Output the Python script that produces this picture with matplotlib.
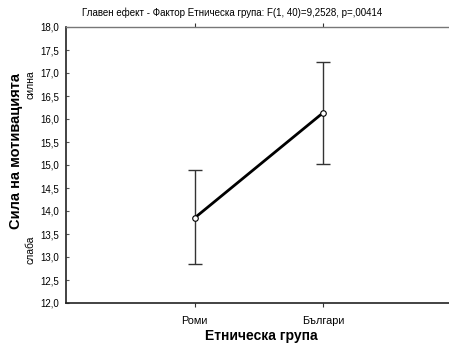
import matplotlib
matplotlib.use('Agg')
import matplotlib.pyplot as plt

plt.rcParams['font.family'] = ['Liberation Sans', 'DejaVu Sans']

groups = ['Роми', 'Българи']
means = [13.85, 16.14]
upper = [14.89, 17.25]
lower = [12.84, 15.02]
yticks = [12.0, 12.5, 13.0, 13.5, 14.0, 14.5, 15.0, 15.5, 16.0, 16.5, 17.0, 17.5, 18.0]

title = 'Главен ефект - Фактор Етническа група: F(1, 40)=9,2528, p=,00414'


def main(plt_file='out.png'):
    fig = plt.figure(figsize=(4.49, 3.43), dpi=100)
    # axes runs a little past the right edge like the original export
    ax = fig.add_axes([66/449, 1 - 303/343, 386/449, 276/343])

    x = [1, 2]
    yerr = [[m - l for m, l in zip(means, lower)], [u - m for m, u in zip(means, upper)]]
    ax.errorbar(x, means, yerr=yerr, fmt='none', ecolor='#333333', elinewidth=1,
                capsize=5, capthick=1, zorder=2)
    ax.plot(x, means, color='black', linewidth=2, zorder=3)
    ax.plot(x, means, linestyle='none', marker='o', markersize=4,
            markerfacecolor='white', markeredgecolor='black', markeredgewidth=0.8, zorder=4)

    ax.set_xlim(0, 3)
    ax.set_ylim(12, 18)
    ax.set_yticks(yticks)
    ax.set_yticklabels([('%.1f' % t).replace('.', ',') for t in yticks], fontsize=7)
    ax.set_xticks(x)
    ax.set_xticklabels(groups, fontsize=7.8)
    ax.tick_params(axis='y', direction='in', length=2, pad=5, color='#555555')
    ax.tick_params(axis='x', direction='out', length=3, pad=6, color='#333333')
    ax.tick_params(axis='x', which='both', top=True)

    for s in ['left', 'bottom']:
        ax.spines[s].set_color('#222222')
        ax.spines[s].set_linewidth(1.2)
    ax.spines['top'].set_color('#777777')
    ax.spines['top'].set_linewidth(1)
    ax.spines['right'].set_visible(False)

    fig.text(232/449, 1 - 13/343, title, ha='center', va='center', fontsize=7)
    fig.text(16/449, 1 - 151/343, 'Сила на мотивацията', rotation=90, ha='center',
             va='center', fontsize=10.5, fontweight='bold')
    fig.text(30/449, 1 - 85/343, 'силна', rotation=90, ha='center', va='center', fontsize=7.5)
    fig.text(30/449, 1 - 250/343, 'слаба', rotation=90, ha='center', va='center', fontsize=7.5)
    fig.text(261/449, 1 - 336/343, 'Етническа група', ha='center', va='center',
             fontsize=10, fontweight='bold')

    plt.savefig(plt_file)


if __name__ == '__main__':
    main()
